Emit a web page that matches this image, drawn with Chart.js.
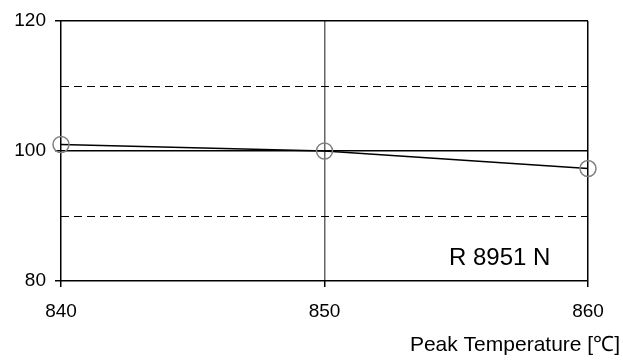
<!DOCTYPE html>
<html lang="en">
<head>
  <meta charset="UTF-8">
  <title>Peak Temperature</title>
  <script src="https://cdn.jsdelivr.net/npm/chart.js"></script>
  <style>
    html, body { margin: 0; padding: 0; background: #fff; }
    #wrap { width: 623px; height: 363px; position: relative; }
  </style>
</head>
<body>
  <div id="wrap"><canvas id="peakChart"></canvas></div>

  <script>
    // Data
    const temperatures = [840, 850, 860];
    const values = [101.0, 100.0, 97.3];
    const xTicks = [840, 850, 860];
    const yLabelled = [80, 100, 120];
    const dashedLevels = [90, 110];
    const sampleLabel = 'R 8951 N';
    const xTitle = 'Peak Temperature [\u2103]';

    const FONT = 'Arial, "Liberation Sans", sans-serif';

    // Dashed lines, inner label and axis title
    const extras = {
      id: 'extras',
      beforeDatasetsDraw(chart) {
        const c = chart.ctx, y = chart.scales.y, a = chart.chartArea;
        c.save();
        c.strokeStyle = '#000';
        c.lineWidth = 1;
        c.setLineDash([8, 5]);
        dashedLevels.forEach(v => {
          const py = Math.round(y.getPixelForValue(v)) + 0.5;
          c.beginPath();
          c.moveTo(a.left, py);
          c.lineTo(a.right, py);
          c.stroke();
        });
        c.restore();
      },
      afterDraw(chart) {
        const c = chart.ctx;
        c.save();
        c.fillStyle = '#000';
        c.font = '24px ' + FONT;
        c.textBaseline = 'alphabetic';
        c.textAlign = 'left';
        c.fillText(sampleLabel, 449, 265);
        c.font = '21px ' + FONT;
        c.textAlign = 'right';
        c.fillText(xTitle, 620, 351);
        c.restore();
      }
    };

    new Chart(document.getElementById('peakChart'), {
      type: 'line',
      data: {
        datasets: [{
          data: temperatures.map((t, i) => ({ x: t, y: values[i] })),
          borderColor: '#000',
          borderWidth: 1.5,
          pointRadius: 8,
          pointBorderColor: '#808080',
          pointBorderWidth: 1.5,
          pointBackgroundColor: 'rgba(0,0,0,0)',
          tension: 0,
          clip: false
        }]
      },
      options: {
        responsive: true,
        maintainAspectRatio: false,
        animation: false,
        layout: { padding: { top: 21, right: 35, bottom: 0, left: 0 } },
        plugins: { legend: { display: false }, tooltip: { enabled: false } },
        scales: {
          x: {
            type: 'linear',
            min: 840,
            max: 860,
            afterBuildTicks: s => { s.ticks = xTicks.map(v => ({ value: v })); },
            afterFit: s => { s.height = 82; },
            ticks: { color: '#000', font: { size: 19, family: FONT }, padding: 13, maxRotation: 0 },
            grid: {
              color: ctx => ctx.tick && ctx.tick.value === 850 ? '#666' : '#000',
              lineWidth: 1.5,
              tickColor: '#000',
              tickLength: 6
            },
            border: { display: false }
          },
          y: {
            min: 80,
            max: 120,
            afterBuildTicks: s => { s.ticks = yLabelled.map(v => ({ value: v })); },
            afterFit: s => { s.width = 61; },
            ticks: { color: '#000', font: { size: 19, family: FONT }, padding: 9 },
            grid: {
              color: '#000',
              lineWidth: 1.5,
              tickColor: '#000',
              tickLength: 6
            },
            border: { display: false }
          }
        }
      },
      plugins: [extras]
    });
  </script>
</body>
</html>
